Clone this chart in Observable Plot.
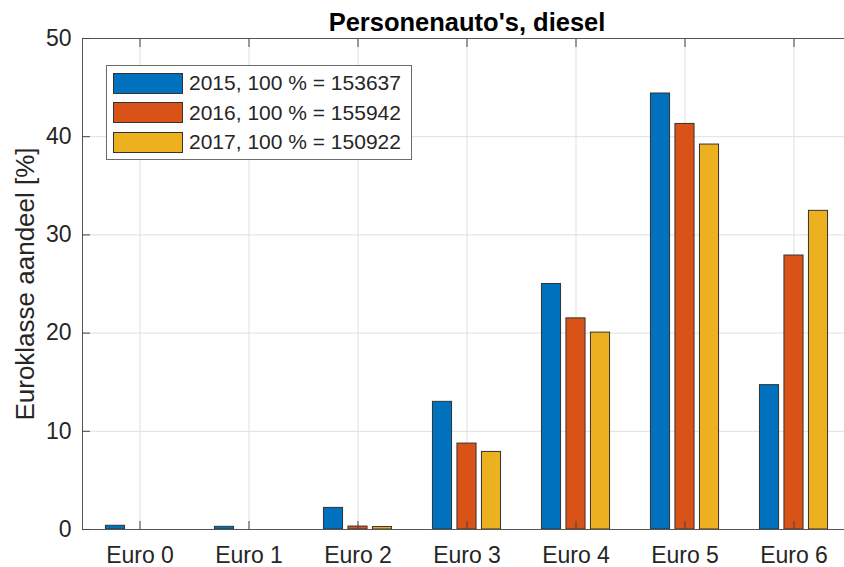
<!DOCTYPE html>
<html>
<head>
<meta charset="utf-8">
<script src="https://cdn.jsdelivr.net/npm/d3@7"></script>
<script src="https://cdn.jsdelivr.net/npm/@observablehq/plot@0.6"></script>
<style>
  html, body { margin: 0; padding: 0; background: #fff; overflow: hidden; }
  #wrap { position: relative; width: 844px; height: 567px; font-family: "Liberation Sans", Arial, sans-serif; color: #262626; }
  #legend { position: absolute; left: 106px; top: 65px; width: 304px; height: 93px; border: 1px solid #6b6b6b; background: #fff; box-sizing: content-box; }
  .row { position: absolute; left: 6px; height: 22px; display: flex; align-items: center; }
  .sw { width: 70px; height: 21px; border: 1px solid #333; box-sizing: border-box; }
  .lt { margin-left: 6px; font-size: 21px; white-space: nowrap; line-height: 22px; }
</style>
</head>
<body>
<div id="wrap"></div>
<script>
const categories = ["Euro 0", "Euro 1", "Euro 2", "Euro 3", "Euro 4", "Euro 5", "Euro 6"];
const years = ["2015", "2016", "2017"];
const totals = [153637, 155942, 150922];
const v2015 = [0.38, 0.27, 2.2, 13.0, 25.0, 44.4, 14.7];
const v2016 = [0, 0, 0.3, 8.75, 21.5, 41.3, 27.9];
const v2017 = [0, 0, 0.25, 7.9, 20.05, 39.2, 32.45];
const yTicks = [0, 10, 20, 30, 40, 50];
const colors = ["#0072BD", "#D95319", "#EDB120"];
const titleText = "Personenauto's, diesel";
const yLabel = "Euroklasse aandeel [%]";

const series = [v2015, v2016, v2017];
const offsets = [-24.5, 0, 24.5];

const barMarks = series.map((vals, j) =>
  Plot.barY(
    categories.map((c, i) => ({cat: c, value: vals[i]})).filter(d => d.value > 0),
    {x: "cat", y: "value", fill: colors[j], stroke: "#333", strokeWidth: 1,
     insetLeft: 44.95, insetRight: 44.95, dx: offsets[j]}
  )
);

const chart = Plot.plot({
  width: 844,
  height: 567,
  marginLeft: 82,
  marginRight: 0,
  marginTop: 38,
  marginBottom: 38,
  style: {fontFamily: "'Liberation Sans', Arial, sans-serif", color: "#262626", background: "#fff", overflow: "hidden"},
  x: {type: "band", domain: categories, range: [82, 851.3], padding: 0},
  y: {domain: [0, 50], range: [529, 38]},
  marks: [
    Plot.gridX({stroke: "#dfdfdf", strokeOpacity: 1}),
    Plot.gridY(yTicks, {stroke: "#dfdfdf", strokeOpacity: 1}),
    ...barMarks,
    Plot.frame({anchor: "left", stroke: "#555"}),
    Plot.frame({anchor: "top", stroke: "#555"}),
    Plot.frame({anchor: "bottom", stroke: "#555"}),
    Plot.axisX({anchor: "bottom", tickSize: -8, tickPadding: 25, fontSize: 23, label: null, stroke: "#444"}),
    Plot.axisX({anchor: "top", tickSize: -8, tickFormat: () => "", label: null, stroke: "#444"}),
    Plot.axisY(yTicks, {anchor: "left", tickSize: -8, tickPadding: 19, fontSize: 23, label: null, stroke: "#444"}),
    Plot.text([titleText], {frameAnchor: "top", textAnchor: "middle", dx: 3.5, dy: -8, lineAnchor: "bottom", fontSize: 25.5, fontWeight: "bold", fill: "#000"}),
    Plot.text([yLabel], {frameAnchor: "left", textAnchor: "middle", rotate: -90, dx: -49, lineAnchor: "bottom", fontSize: 26, fill: "#262626"})
  ]
});

const wrap = document.getElementById("wrap");
wrap.appendChild(chart);

const legend = document.createElement("div");
legend.id = "legend";
years.forEach((yr, j) => {
  const row = document.createElement("div");
  row.className = "row";
  row.style.top = (6 + j * 29.5) + "px";
  const sw = document.createElement("div");
  sw.className = "sw";
  sw.style.background = colors[j];
  const lt = document.createElement("span");
  lt.className = "lt";
  lt.textContent = `${yr}, 100 % = ${totals[j]}`;
  row.appendChild(sw);
  row.appendChild(lt);
  legend.appendChild(row);
});
wrap.appendChild(legend);
</script>
</body>
</html>
